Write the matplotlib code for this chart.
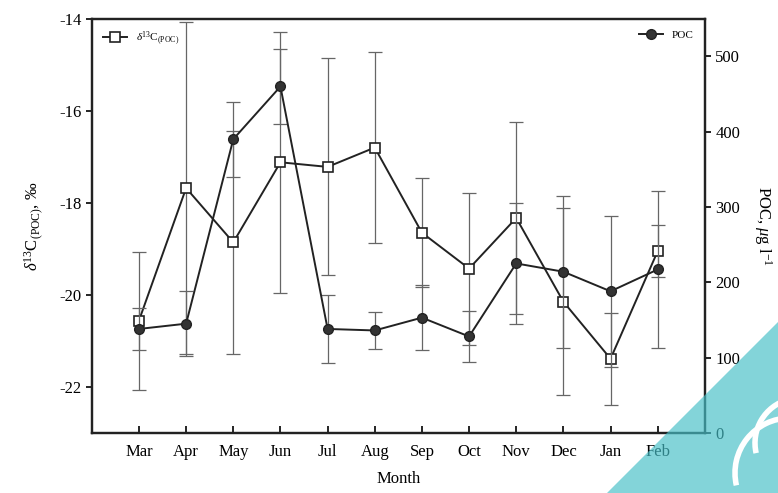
import numpy as np
import matplotlib
matplotlib.use('Agg')
import matplotlib.pyplot as plt
from matplotlib.patches import Polygon, Arc

plt.rcParams['font.family'] = ['Liberation Serif', 'DejaVu Serif']
plt.rcParams['axes.unicode_minus'] = False
plt.rcParams['mathtext.fontset'] = 'custom'
plt.rcParams['mathtext.rm'] = 'Liberation Serif'
plt.rcParams['mathtext.it'] = 'Liberation Serif:italic'

months = ['Mar', 'Apr', 'May', 'Jun', 'Jul', 'Aug', 'Sep', 'Oct', 'Nov', 'Dec', 'Jan', 'Feb']
d13c = [-20.56, -17.68, -18.86, -17.12, -17.22, -16.80, -18.65, -19.43, -18.33, -20.15, -21.39, -19.05]
d13c_err = [1.5, 3.6, 2.42, 2.84, 2.36, 2.07, 1.18, 1.65, 2.09, 2.03, 1.0, 0.56]
poc = [138, 145, 390, 460, 138, 136, 153, 128, 225, 214, 188, 217]
poc_err = [28, 43, 50, 50, 45, 25, 43, 34, 80, 101, 100, 104]

x = np.arange(len(months))

fig = plt.figure(figsize=(7.78, 4.93), dpi=100)
ax = fig.add_axes([0.118, 0.122, 0.788, 0.840])
ax2 = ax.twinx()

# error bars first, grey and thin
ax.errorbar(x, d13c, yerr=d13c_err, fmt='none', ecolor='#666666',
            elinewidth=0.9, capsize=5, capthick=0.9, zorder=2)
ax2.errorbar(x, poc, yerr=poc_err, fmt='none', ecolor='#666666',
             elinewidth=0.9, capsize=5, capthick=0.9, zorder=2)

l1, = ax.plot(x, d13c, color='#222222', lw=1.4, marker='s', ms=6.5,
              mfc='white', mec='#222222', mew=1.2, zorder=4,
              label=r'$\delta^{13}$C$_{\rm (POC)}$')
l2, = ax2.plot(x, poc, color='#222222', lw=1.4, marker='o', ms=7,
               mfc='#333333', mec='#222222', zorder=4, label='POC')

ax.set_xlim(-1, 12)
ax.set_ylim(-23, -14)
ax2.set_ylim(0, 550)

ax.set_yticks([-14, -16, -18, -20, -22])
ax.set_xticks(x)
ax.set_xticklabels(months)
ax2.set_yticks([0, 100, 200, 300, 400, 500])

ax.tick_params(axis='x', direction='in', length=5, width=1.2, labelsize=12, pad=8)
ax.tick_params(axis='y', direction='out', length=4, width=1.2, labelsize=12)
ax2.tick_params(axis='y', direction='out', length=4, width=1.2, labelsize=12)

for a in (ax, ax2):
    for s in a.spines.values():
        s.set_linewidth(1.6)
        s.set_color('#222222')

ax.set_xlabel('Month', fontsize=12, labelpad=8)
ax.set_ylabel(r'$\delta^{13}$C$_{\rm (POC)}$, ‰', fontsize=12, labelpad=10)
ax2.set_ylabel(r'POC, $\mu$g l$^{-1}$', fontsize=12, rotation=270, labelpad=24)

ax.legend(handles=[l1], loc='upper left', frameon=False, fontsize=8,
          handlelength=2.2, borderaxespad=0.6)
ax2.legend(handles=[l2], loc='upper right', frameon=False, fontsize=8,
           handlelength=2.2, borderaxespad=0.6)

# teal corner watermark
tri = Polygon([[607 / 778, 0], [1, 171 / 493], [1, 0]], closed=True,
              transform=fig.transFigure, facecolor='#46bfc7', alpha=0.67,
              edgecolor='none', zorder=10)
fig.patches.append(tri)
fig.patches.append(Arc((790 / 778, 20 / 493), 110 / 778, 110 / 493, theta1=90, theta2=200,
                       transform=fig.transFigure, color='white', lw=4, zorder=11))
fig.patches.append(Arc((800 / 778, 50 / 493), 90 / 778, 90 / 493, theta1=100, theta2=200,
                       transform=fig.transFigure, color='white', lw=4, zorder=11))

fig.savefig('out.png', dpi=100)
